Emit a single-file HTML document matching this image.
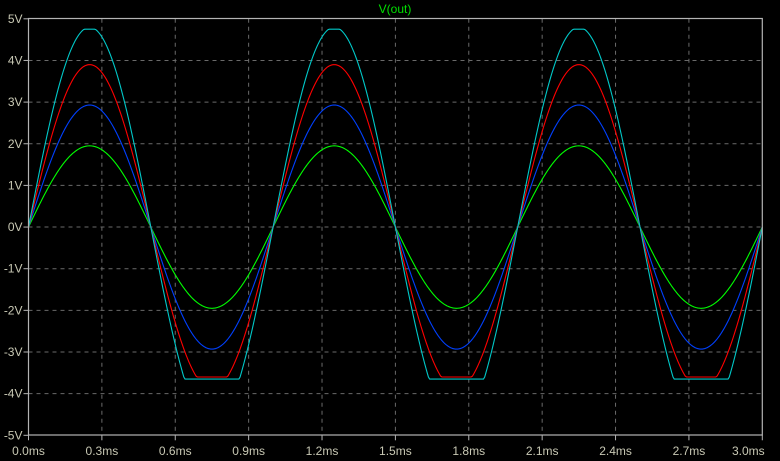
<!DOCTYPE html>
<html><head><meta charset="utf-8"><style>
html,body{margin:0;padding:0;background:#000;}
svg{display:block;font-family:"Liberation Sans",sans-serif;}
</style></head><body>
<svg id="chart" width="780" height="461" viewBox="0 0 780 461">
<rect width="780" height="461" fill="#000"/>
<g id="grid"></g><g id="ticks"></g><g id="series"></g>
<rect x="28.5" y="18.5" width="733.8" height="416.5" fill="none" stroke="#b4b4b4" stroke-width="1.2"/>
<text x="395" y="13" fill="#00e000" font-size="12" text-anchor="middle">V(out)</text>
</svg>
<script>
const xTicks=[0,0.3,0.6,0.9,1.2,1.5,1.8,2.1,2.4,2.7,3.0];
const xTickLabels=["0.0ms","0.3ms","0.6ms","0.9ms","1.2ms","1.5ms","1.8ms","2.1ms","2.4ms","2.7ms","3.0ms"];
const yTicks=[5,4,3,2,1,0,-1,-2,-3,-4,-5];
const yTickLabels=["5V","4V","3V","2V","1V","0V","-1V","-2V","-3V","-4V","-5V"];
const seriesNames=["green","blue","red","cyan"];
const seriesColors=["#00ff00","#0040ff","#ff0000","#00c8c8"];
const seriesAmplitude=[1.95,2.93,3.9,4.8];
const seriesTopClip=[9,9,9,4.75];
const seriesBottomClip=[-9,-9,-3.6,-3.65];
const periodMs=[1.0];
const X0=28.5,X1=762.3,Y0=18.8,Y1=435.3;
const sx=t=>X0+(t-0)/(3-0)*(X1-X0);
const sy=v=>Y0+(5-v)/10*(Y1-Y0);
const NS="http://www.w3.org/2000/svg";
const grid=document.getElementById('grid'),ticks=document.getElementById('ticks'),ser=document.getElementById('series');
xTicks.forEach((t,i)=>{
 if(i>0&&i<xTicks.length-1){
  const l=document.createElementNS(NS,'line');
  
  
  l.setAttribute('x1',sx(t));l.setAttribute('x2',sx(t));l.setAttribute('y1',Y0);l.setAttribute('y2',Y1);
  l.setAttribute('stroke','#6a6a6a');l.setAttribute('stroke-dasharray','4,4');grid.appendChild(l);}
 const tk=document.createElementNS(NS,'line');
 
 
 tk.setAttribute('x1',sx(t));tk.setAttribute('x2',sx(t));tk.setAttribute('y1',Y1);tk.setAttribute('y2',Y1+5);tk.setAttribute('stroke','#b4b4b4');ticks.appendChild(tk);
 const tx=document.createElementNS(NS,'text');
 
 
 tx.setAttribute('x',sx(t)+(i===xTicks.length-1?-14:0));tx.setAttribute('y',455);tx.setAttribute('fill','#c8c8b4');tx.setAttribute('font-size','12');tx.setAttribute('text-anchor','middle');
 tx.textContent=xTickLabels[i];ticks.appendChild(tx);
});
yTicks.forEach((v,i)=>{
 if(i>0&&i<yTicks.length-1){
  const l=document.createElementNS(NS,'line');
  
  
  l.setAttribute('x1',X0);l.setAttribute('x2',X1);l.setAttribute('y1',sy(v));l.setAttribute('y2',sy(v));
  l.setAttribute('stroke','#6a6a6a');l.setAttribute('stroke-dasharray','4,4');grid.appendChild(l);}
 const tk=document.createElementNS(NS,'line');
 
 
 tk.setAttribute('x1',X0-5);tk.setAttribute('x2',X0);tk.setAttribute('y1',sy(v));tk.setAttribute('y2',sy(v));tk.setAttribute('stroke','#b4b4b4');ticks.appendChild(tk);
 const tx=document.createElementNS(NS,'text');
 
 
 tx.setAttribute('x',X0-6);tx.setAttribute('y',sy(v)+4);tx.setAttribute('fill','#c8c8b4');tx.setAttribute('font-size','12');tx.setAttribute('text-anchor','end');
 tx.textContent=yTickLabels[i];ticks.appendChild(tx);
});
seriesNames.forEach((n,k)=>{
 let d='';
 for(let i=0;i<=600;i++){
  const t=i*3/600;
  let v=seriesAmplitude[k]*Math.sin(2*Math.PI*t/periodMs[0]);
  v=Math.min(seriesTopClip[k],Math.max(seriesBottomClip[k],v));
  d+=(i?'L':'M')+sx(t).toFixed(2)+','+sy(v).toFixed(2);
 }
 const p=document.createElementNS(NS,'path');
 
 
 p.setAttribute('d',d);p.setAttribute('fill','none');p.setAttribute('stroke',seriesColors[k]);p.setAttribute('stroke-width','1.1');
 ser.appendChild(p);
});
</script>
</body></html>
